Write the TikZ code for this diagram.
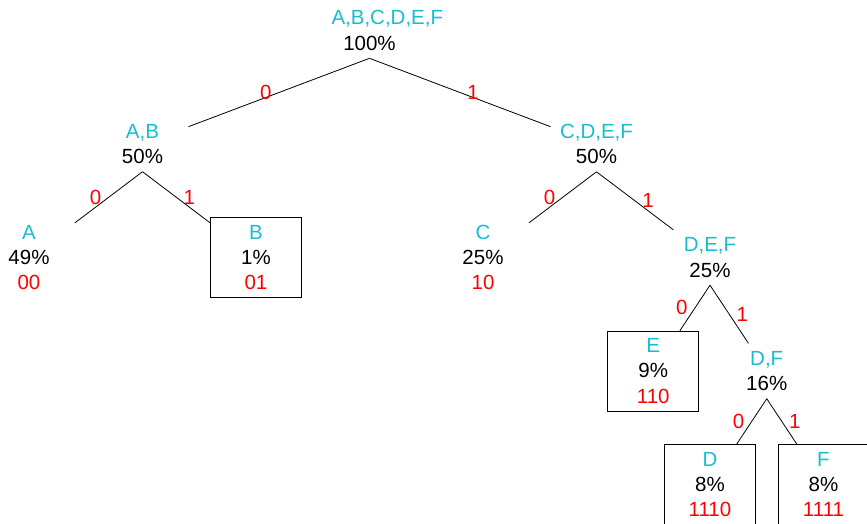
\documentclass[tikz,border=0pt]{standalone}
\usepackage{fontspec}
\setmainfont{Liberation Sans}
\usetikzlibrary{positioning}

\definecolor{symcol}{HTML}{17BECF}
\newcommand{\sym}[1]{\textcolor{symcol}{#1}}
\newcommand{\bits}[1]{\textcolor{red}{#1}}

\tikzset{
	code/.style={align=center, text width=76pt, inner sep=7.5pt, font=\fontsize{20.5}{25.3}\selectfont},
	leaf/.style={code, draw},
	bit/.style={midway, text=red, inner sep=3pt, font=\fontsize{20.5}{25.3}\selectfont},
}

\begin{document}
\begin{tikzpicture}[line width=0.8pt, on grid]
		\useasboundingbox (0,0) rectangle (867pt,-523pt);
		
			\node [code] (abcdef) at (369.5pt,-30.5pt) {\sym{A,B,C,D,E,F}\\100\%};
			\node [code, below left = 113.5pt and 227pt of abcdef] (ab) {\sym{A,B}\\50\%};
			\node [code, below right = 113.5pt and 227pt of abcdef] (cdef) {\sym{C,D,E,F}\\50\%};
			\node [code, below left = 113.5pt and 113.5pt of ab] (a) {\sym{A}\\49\%\\\bits{00}};
			\node [leaf, below right = 113.5pt and 113.5pt of ab] (b) {\sym{B}\\1\%\\\bits{01}};
			\node [code, below left = 113.5pt and 113.5pt of cdef] (c) {\sym{C}\\25\%\\\bits{10}};
			\node [code, below right = 113.5pt and 113.5pt of cdef] (def) {\sym{D,E,F}\\25\%};
			\node [leaf, below left = 113.5pt and 56.75pt of def] (e) {\sym{E}\\9\%\\\bits{110}};
			\node [code, below right = 113.5pt and 56.75pt of def] (df) {\sym{D,F}\\16\%};
			\node [leaf, below left = 113.5pt and 56.75pt of df] (d) {\sym{D}\\8\%\\\bits{1110}};
			\node [leaf, below right = 113.5pt and 56.75pt of df] (f) {\sym{F}\\8\%\\\bits{1111}};
			
			\draw (abcdef.south) -- (ab) node [bit, left = 4pt] {0};
			\draw (abcdef.south) -- (cdef) node [bit, right = 4pt] {1};
			\draw (ab.south) -- (a) node [bit, left = 4pt] {0};
			\draw (ab.south) -- (b) node [bit, right = 4pt] {1};
			\draw (cdef.south) -- (c) node [bit, left = 4pt] {0};
			\draw (cdef.south) -- (def) node [bit, right = 4pt] {1};
			\draw (def.south) -- (e) node [bit, left = 4pt] {0};
			\draw (def.south) -- (df) node [bit, right = 4pt] {1};
			\draw (df.south) -- (d) node [bit, left = 4pt] {0};
			\draw (df.south) -- (f) node [bit, right = 4pt] {1};
				
	\end{tikzpicture}
\end{document}
